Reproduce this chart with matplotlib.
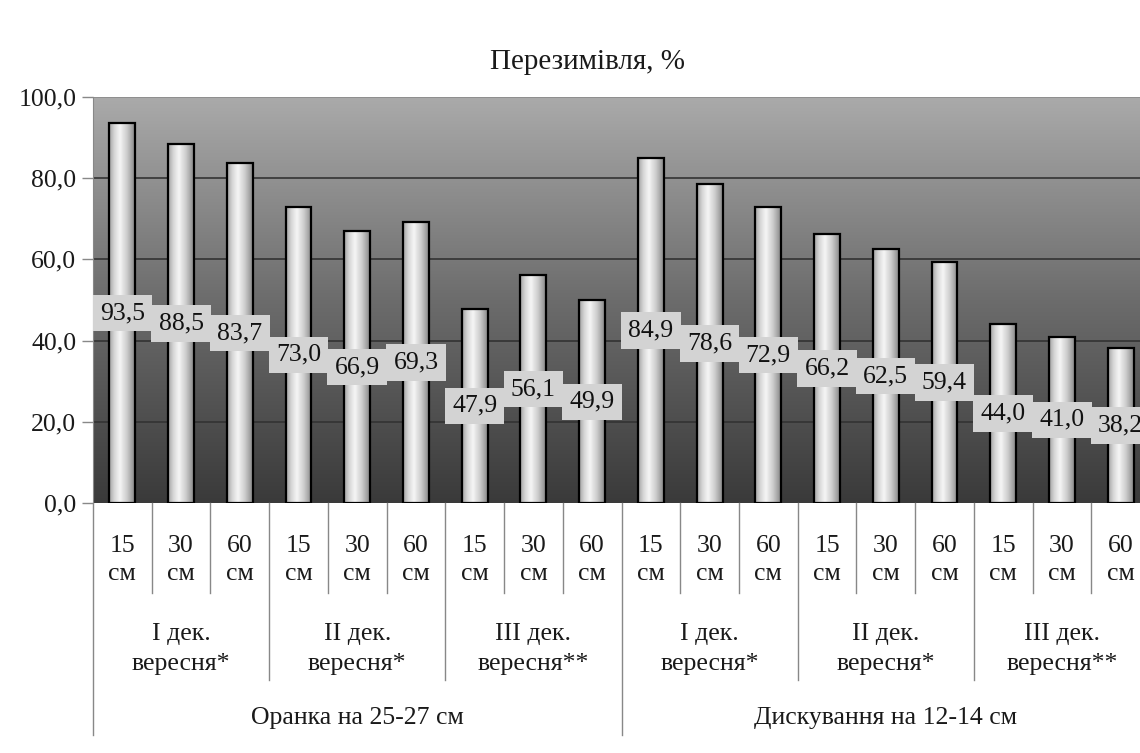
import matplotlib
matplotlib.use("Agg")
import matplotlib.pyplot as plt
import numpy as np
from matplotlib.colors import LinearSegmentedColormap
import matplotlib.transforms as mtransforms

plt.rcParams['font.family'] = ['Liberation Serif', 'DejaVu Serif']

title = "Перезимівля, %"
distances = ["15\nсм", "30\nсм", "60\nсм"]
decades = ["I дек.\nвересня*", "II дек.\nвересня*", "III дек.\nвересня**"]
tillage = ["Оранка на 25-27 см", "Дискування на 12-14 см"]
values_oranka = [93.5, 88.5, 83.7, 73.0, 66.9, 69.3, 47.9, 56.1, 49.9]
values_disk = [84.9, 78.6, 72.9, 66.2, 62.5, 59.4, 44.0, 41.0, 38.2]
yticks = [0, 20, 40, 60, 80, 100]

values = values_oranka + values_disk
n = len(values)
x = np.arange(n)

W, H = 1140, 753
fig = plt.figure(figsize=(W / 100, H / 100), dpi=100)
ax = fig.add_axes([93 / W, (H - 503) / H, 1057 / W, 406 / H])

FS = 18.5

# background gradient
bg_cmap = LinearSegmentedColormap.from_list("bg", ["#3a3a3a", "#6c6c6c", "#aaaaaa"])
grad = np.linspace(0, 1, 256).reshape(-1, 1)
ax.imshow(grad, extent=[-0.5, n - 0.5, 0, 100], origin="lower", aspect="auto",
          cmap=bg_cmap, zorder=0, interpolation="bicubic")

# gridlines
for yv in yticks[1:]:
    ax.axhline(yv, color="#333333" if yv < 100 else "#8a8a8a", lw=1.2, zorder=1)

# bars with cylinder gradient
bw = 0.44
bars = ax.bar(x, values, width=bw, color="none", edgecolor="black", lw=1.6, zorder=3)
bar_cmap = LinearSegmentedColormap.from_list(
    "bar", [(0, "#a0a0a0"), (0.2, "#d6d6d6"), (0.42, "#f6f6f6"), (0.7, "#cccccc"), (1, "#888888")])
hgrad = np.linspace(0, 1, 128).reshape(1, -1)
for rect in bars:
    x0 = rect.get_x()
    im = ax.imshow(hgrad, extent=[x0, x0 + bw, 0, rect.get_height()], origin="lower",
                   aspect="auto", cmap=bar_cmap, zorder=2, interpolation="bicubic")
    im.set_clip_path(rect)

# data labels at mid-height
for xi, v in zip(x, values):
    ax.text(xi, v / 2, f"{v:.1f}".replace(".", ","), ha="center", va="center",
            fontsize=FS, color="#111111", zorder=5,
            bbox=dict(boxstyle="square,pad=0.28", facecolor="#d3d3d3", edgecolor="none"))

ax.set_xlim(-0.5, n - 0.5)
ax.set_ylim(0, 100)
ax.set_yticks(yticks)
ax.set_yticklabels([f"{t:.1f}".replace(".", ",") for t in yticks], fontsize=FS, color="#1a1a1a")
ax.tick_params(axis="y", length=8, width=1, color="#888888", pad=4)
ax.set_xticks([])
for s in ["top", "right", "bottom"]:
    ax.spines[s].set_visible(False)
ax.spines["left"].set_color("#888888")

# multi-level category axis
trans = mtransforms.blended_transform_factory(ax.transData, ax.transAxes)
y1 = -90 / 406
y2 = -177 / 406
y3 = -232 / 406
line_kw = dict(color="#888888", lw=1, transform=trans, clip_on=False)
for i in range(n + 1):
    xb = i - 0.5
    if i % 9 == 0:
        yb = y3
    elif i % 3 == 0:
        yb = y2
    else:
        yb = y1
    ax.plot([xb, xb], [0, yb], **line_kw)

for i in range(n):
    ax.text(i, -57 / 406, distances[i % 3], transform=trans, ha="center", va="center",
            fontsize=FS, linespacing=1.38, color="#1a1a1a")
for j in range(n // 3):
    ax.text(j * 3 + 1, -146 / 406, decades[j % 3], transform=trans, ha="center", va="center",
            fontsize=FS, linespacing=1.45, color="#1a1a1a")
for k in range(2):
    ax.text(k * 9 + 4, -215 / 406, tillage[k], transform=trans, ha="center", va="center",
            fontsize=FS, color="#1a1a1a")

fig.text(588 / W, 1 - 62 / H, title, ha="center", va="center", fontsize=21, color="#1a1a1a")

fig.savefig("out.png", dpi=100)
